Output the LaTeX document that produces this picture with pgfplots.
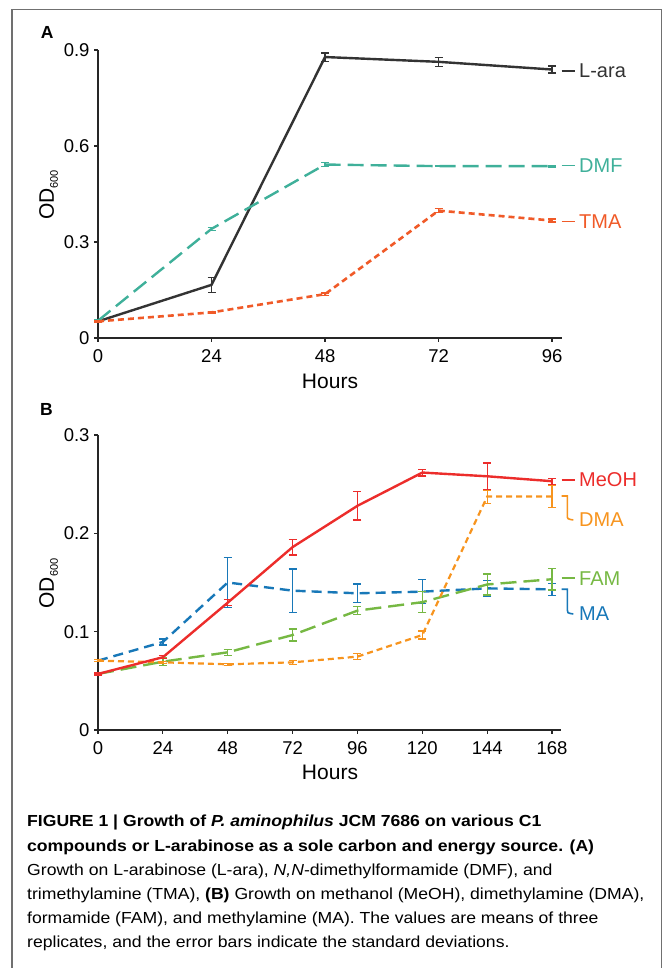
\documentclass[border=0pt]{standalone}
\usepackage{fontspec}
\setmainfont{Liberation Sans}
\newfontfamily\capfam{Liberation Sans}[FakeStretch=1.1]
\usepackage{pgfplots}
\pgfplotsset{compat=1.18}
\definecolor{cLara}{HTML}{333333}
\definecolor{cDMF}{HTML}{3FB09A}
\definecolor{cTMA}{HTML}{F05A28}
\definecolor{cMeOH}{HTML}{EC2D2B}
\definecolor{cDMA}{HTML}{F7941E}
\definecolor{cFAM}{HTML}{76B843}
\definecolor{cMA}{HTML}{1878B8}
\definecolor{frame}{HTML}{707070}
\pgfplotsset{
  panel/.style={
    scale only axis, axis x line=bottom, axis y line=left,
    axis line style={-, line width=1.2pt, black!85},
    every tick/.style={line width=1.2pt, black!85},
    tick align=outside, major tick length=4pt,
    ymin=0, xmin=0, clip=false,
    tick label style={font=\fontsize{18.5}{20}\selectfont},
    xticklabel style={yshift=-4pt},
    yticklabel style={xshift=-1pt},
    /pgf/number format/assume math mode=true,
  },
  errb/.style={error bars/.cd, y dir=both, y explicit,
    error bar style={solid, line width=1.3pt},
    error mark options={solid, line width=1.3pt, mark size=4pt, rotate=90}},
}
\newcommand{\lab}{\fontsize{20}{22}\selectfont}
\newcommand{\axl}{\fontsize{21}{22}\selectfont}
\newcommand{\capf}{\capfam\fontsize{16}{18}\selectfont}
\begin{document}
\begin{tikzpicture}
\path[use as bounding box] (0pt,0pt) rectangle (665pt,968pt);
\draw[frame, line width=1.4pt] (12pt,0pt) -- (12pt,958.5pt) -- (661.5pt,958.5pt) -- (661.5pt,0pt);

% ---------------- Panel A ----------------
\begin{axis}[panel, at={(98pt,630pt)}, anchor=south west,
  width=464pt, height=288pt, xmax=98.1, ymax=0.9,
  xtick={0,24,48,72,96}, ytick={0,0.3,0.6,0.9}]
\addplot[cLara, line width=2.4pt, errb] table[x=x,y=y,y error=e] {
x y e
0 0.052 0.002
24 0.166 0.023
48 0.878 0.013
72 0.863 0.014
96 0.839 0.011
};
\addplot[cDMF, line width=2.4pt, dash pattern=on 16pt off 7pt, errb] table[x=x,y=y,y error=e] {
x y e
0 0.054 0.002
24 0.341 0.005
48 0.542 0.007
72 0.537 0.002
96 0.537 0.003
};
\addplot[cTMA, line width=2.6pt, dash pattern=on 6pt off 4pt, errb] table[x=x,y=y,y error=e] {
x y e
0 0.052 0.002
24 0.080 0.002
48 0.137 0.004
72 0.398 0.006
96 0.367 0.005
};
\end{axis}
\node[font=\axl, rotate=90] at (48.7pt,773pt) {OD{\fontsize{11}{12}\selectfont\raisebox{-4pt}{600}}};
\node[font=\axl] at (330pt,587pt) {Hours};
\node[font=\fontsize{17.5}{18}\selectfont\bfseries, anchor=base west, inner sep=0pt] at (40.7pt,929pt) {A};
\draw[cLara, line width=1.6pt] (561.5pt,897pt) -- (575pt,897pt);
\node[font=\lab, text=cLara, anchor=base west, inner sep=0pt] at (579pt,890pt) {L-ara};
\draw[cDMF, line width=1.6pt] (561.5pt,802.3pt) -- (575pt,802.3pt);
\node[font=\lab, text=cDMF, anchor=base west, inner sep=0pt] at (579pt,795.3pt) {DMF};
\draw[cTMA, line width=1.6pt] (561.5pt,746.3pt) -- (575pt,746.3pt);
\node[font=\lab, text=cTMA, anchor=base west, inner sep=0pt] at (579pt,739.3pt) {TMA};

% ---------------- Panel B ----------------
\begin{axis}[panel, at={(98pt,238pt)}, anchor=south west,
  width=463pt, height=295pt, xmax=171.3, ymax=0.3,
  xtick={0,24,48,72,96,120,144,168}, ytick={0,0.1,0.2,0.3}]
\addplot[cMA, line width=2.4pt, dash pattern=on 10pt off 6pt, errb] table[x=x,y=y,y error=e] {
x y e
0 0.0705 0.001
24 0.0895 0.003
48 0.150 0.0254
72 0.1417 0.022
96 0.139 0.0095
120 0.1407 0.0122
144 0.144 0.008
168 0.143 0.0063
};
\addplot[cFAM, line width=2.4pt, dash pattern=on 16pt off 7pt, errb] table[x=x,y=y,y error=e] {
x y e
0 0.057 0.001
24 0.0695 0.004
48 0.079 0.003
72 0.0966 0.006
96 0.1214 0.004
120 0.130 0.0105
144 0.148 0.0107
168 0.1533 0.011
};
\addplot[cDMA, line width=2.2pt, dash pattern=on 6pt off 4pt, errb] table[x=x,y=y,y error=e] {
x y e
0 0.0705 0.001
24 0.0688 0.001
48 0.0668 0.001
72 0.0688 0.002
96 0.0746 0.003
120 0.0966 0.004
144 0.2374 0.0068
168 0.2374 0.0114
};
\addplot[cMeOH, line width=2.4pt, errb] table[x=x,y=y,y error=e] {
x y e
0 0.057 0.001
24 0.074 0.0015
48 0.1295 0.003
72 0.186 0.008
96 0.228 0.0144
120 0.2618 0.0034
144 0.258 0.0136
168 0.253 0.003
};
\end{axis}
\node[font=\axl, rotate=90] at (48.7pt,384.5pt) {OD{\fontsize{11}{12}\selectfont\raisebox{-4pt}{600}}};
\node[font=\axl] at (330pt,195.5pt) {Hours};
\node[font=\fontsize{17.5}{18}\selectfont\bfseries, anchor=base west, inner sep=0pt] at (40pt,552pt) {B};
\draw[cMeOH, line width=1.6pt] (561.5pt,488pt) -- (575pt,488pt);
\node[font=\lab, text=cMeOH, anchor=base west, inner sep=0pt] at (579pt,481pt) {MeOH};
\draw[cDMA, line width=1.6pt] (561.5pt,472pt) -- (567.3pt,472pt) -- (567.3pt,453pt) .. controls (567.3pt,449pt) .. (573.3pt,448pt);
\node[font=\lab, text=cDMA, anchor=base west, inner sep=0pt] at (579pt,441pt) {DMA};
\draw[cFAM, line width=1.6pt] (561.5pt,389.7pt) -- (575pt,389.7pt);
\node[font=\lab, text=cFAM, anchor=base west, inner sep=0pt] at (579pt,382.7pt) {FAM};
\draw[cMA, line width=1.6pt] (561.5pt,378.7pt) -- (567.3pt,378.7pt) -- (567.3pt,358pt) .. controls (567.3pt,355pt) .. (573.3pt,354pt);
\node[font=\lab, text=cMA, anchor=base west, inner sep=0pt] at (579pt,347pt) {MA};

% ---------------- Caption ----------------
\begin{scope}[every node/.style={anchor=base west, inner sep=0pt, font=\capf}]
\node at (27pt,141pt) {\textbf{FIGURE 1 | Growth of \textit{P. aminophilus} JCM 7686 on various C1}};
\node at (27pt,116.8pt) {\textbf{compounds or L-arabinose as a sole carbon and energy source. (A)}};
\node at (27pt,92.6pt) {Growth on L-arabinose (L-ara), \textit{N,N}-dimethylformamide (DMF), and};
\node at (27pt,68.4pt) {trimethylamine (TMA), \textbf{(B)} Growth on methanol (MeOH), dimethylamine (DMA),};
\node at (27pt,44.2pt) {formamide (FAM), and methylamine (MA). The values are means of three};
\node at (27pt,20pt) {replicates, and the error bars indicate the standard deviations.};
\end{scope}
\end{tikzpicture}
\end{document}
